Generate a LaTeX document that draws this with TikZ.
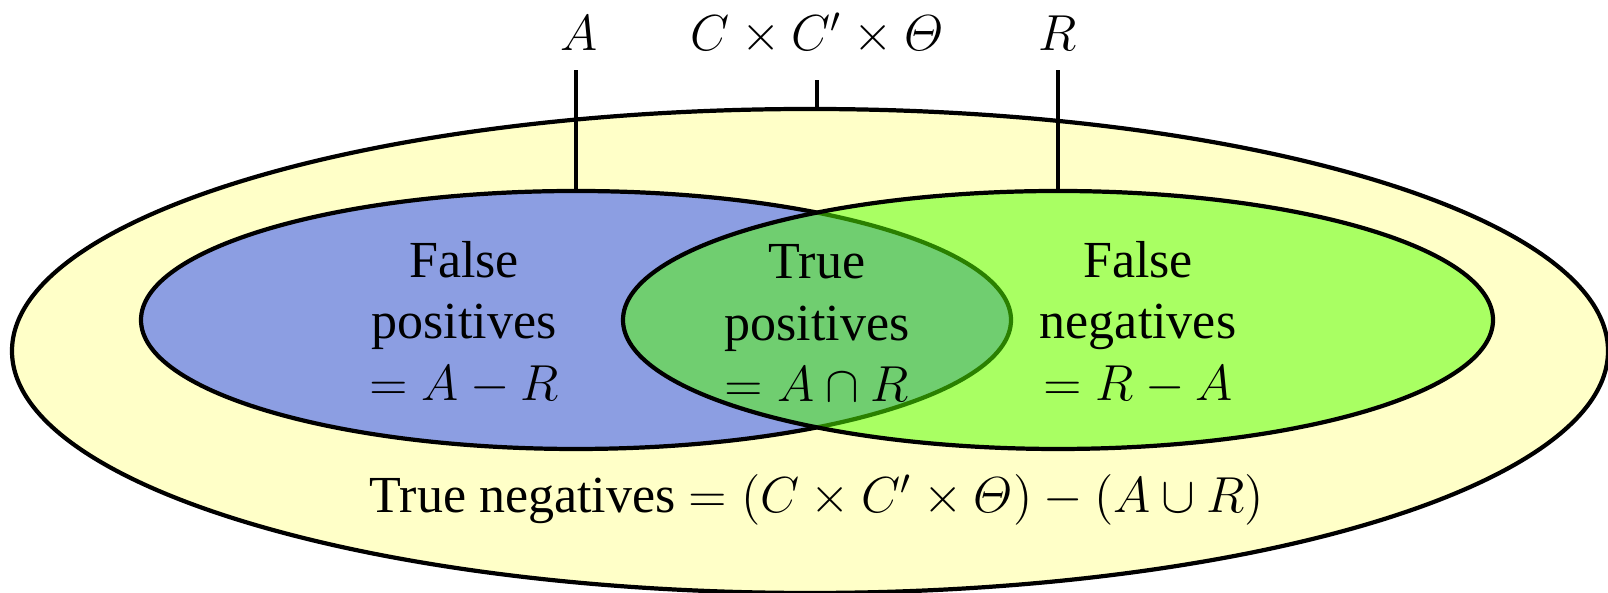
\documentclass[tikz,border=0pt]{standalone}
\usepackage{amsmath}
\usepackage{amssymb}
\usepackage{fontspec}
\setmainfont{Liberation Serif}
\usepackage{tikz}
\usetikzlibrary{shapes.geometric,positioning}

\definecolor{setyellow}{RGB}{255,255,200}
\definecolor{setblue}{RGB}{140,158,226}
\definecolor{setgreen}{RGB}{85,255,0}

\begin{document}
\begin{tikzpicture}[
  region/.style={ellipse, draw, line width=1.2pt, inner sep=0pt, outer sep=0pt},
  label/.style={align=center, font=\fontsize{14.8}{17.6}\selectfont, inner sep=0pt},
  pin/.style={line width=1.2pt}
]
  \useasboundingbox (0,0) rectangle (16.08,5.93);

  \node[region, fill=setyellow, minimum width=15.96cm, minimum height=4.84cm] (space) at (8.10,2.42) {};
  \node[region, fill=setblue, minimum width=8.70cm, minimum height=2.58cm] (ret) at (5.76,2.73) {};
  \node[region, fill=setgreen, fill opacity=0.5, minimum width=8.70cm, minimum height=2.58cm] (rel) at (10.58,2.73) {};

  \node[label] (fp) at (4.64,2.70) {False\\positives\\$= A - R$};
  \node[label] (tp) at (8.17,2.70) {True\\positives\\$= A \cap R$};
  \node[label] (fn) at (11.38,2.70) {False\\negatives\\$= R - A$};
  \node[label, anchor=base] (tn) at (8.17,0.80) {True negatives $= (C \times C' \times \varTheta) - (A \cup R)$};

  \node[label, anchor=base] (lblA) at (5.79,5.42) {$A$};
  \node[label, anchor=base] (lblS) at (8.17,5.42) {$C \times C' \times \varTheta$};
  \node[label, anchor=base] (lblR) at (10.58,5.42) {$R$};

  \coordinate (topA) at (5.76,5.23);
  \coordinate (topS) at (8.17,5.13);
  \coordinate (topR) at (10.58,5.23);

  \draw[pin] (ret.north) -- (topA);
  \draw[pin] (space.north -| topS) -- (topS);
  \draw[pin] (rel.north) -- (topR);
\end{tikzpicture}
\end{document}
